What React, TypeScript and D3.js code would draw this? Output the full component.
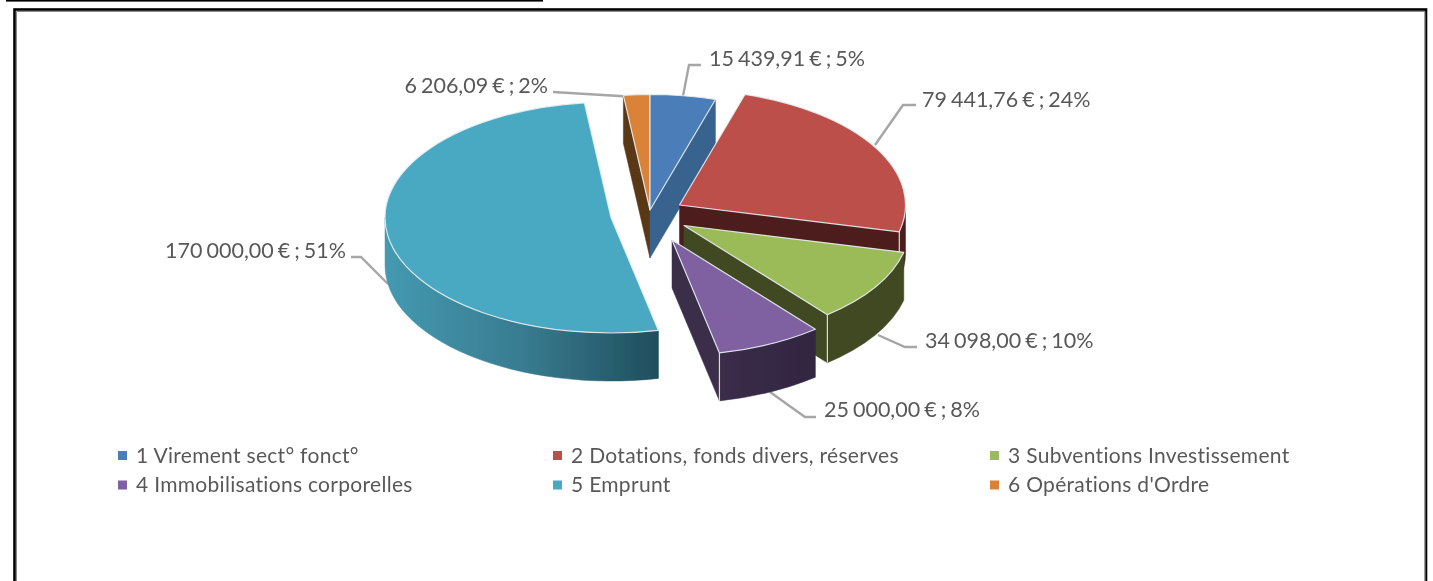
import React from "react";
import * as d3 from "d3";

// ---- data ----
const categories = [
  "1 Virement sect° fonct°",
  "2 Dotations, fonds divers, réserves",
  "3 Subventions Investissement",
  "4 Immobilisations corporelles",
  "5 Emprunt",
  "6 Opérations d'Ordre",
];
const amounts = [15439.91, 79441.76, 34098.0, 25000.0, 170000.0, 6206.09];

// ---- styling & layout ----
const topColors = ["#4c7db8", "#bd4f4c", "#9bba58", "#7f60a0", "#48a9c3", "#d98239"];
const sideColors = ["#39638f", "#4d1f1e", "#3f4a20", "url(#purpleWall)", "url(#tealWall)", "#5a3815"];
const apexes: [number, number][] = [
  [650, 210],
  [679.5, 205],
  [684, 225.5],
  [672, 240],
  [611, 217.5],
  [650, 210],
];
const drawOrder = [5, 0, 1, 2, 3, 4];
const leaders: [number, number][][] = [
  [[683, 96], [689, 65], [701, 65]],
  [[875, 145], [903, 105], [916, 105]],
  [[878, 335], [905, 347], [917, 347]],
  [[770, 392], [805, 417], [816, 417]],
  [[388, 284], [361, 257], [351, 257]],
  [[636, 97], [553, 92]],
];
const labelAnchors: [number, number, string][] = [
  [709, 66, "start"],
  [922, 107, "start"],
  [925, 348, "start"],
  [824, 417, "start"],
  [346, 258, "end"],
  [548, 93, "end"],
];
const RX = 226;
const RY = 115.5;
const DEPTH = 48;
const FONT = "Lato, 'Open Sans', sans-serif";
const TEXT = "#595959";

const W = 1433;
const H = 581;

const locale = d3.formatLocale({
  decimal: ",",
  thousands: "\u00a0",
  grouping: [3],
  currency: ["", "\u00a0€"],
});
const money = locale.format("$,.2f");
const pct = d3.format(".0%");

const total = d3.sum(amounts);
const arcs = d3
  .pie<number>()
  .sort(null)
  .startAngle(0)
  .endAngle(2 * Math.PI)(amounts);

const pt = (c: [number, number], a: number, dy = 0): [number, number] => [
  c[0] + RX * Math.sin(a),
  c[1] - RY * Math.cos(a) + dy,
];

function topPath(c: [number, number], a0: number, a1: number) {
  const p0 = pt(c, a0);
  const p1 = pt(c, a1);
  const large = a1 - a0 > Math.PI ? 1 : 0;
  return `M${c[0]},${c[1]}L${p0[0]},${p0[1]}A${RX},${RY} 0 ${large} 1 ${p1[0]},${p1[1]}Z`;
}

function outerWall(c: [number, number], a0: number, a1: number) {
  const s = Math.max(a0, Math.PI / 2);
  const e = Math.min(a1, (3 * Math.PI) / 2);
  if (e <= s) return null;
  const p0 = pt(c, s);
  const p1 = pt(c, e);
  const q1 = pt(c, e, DEPTH);
  const q0 = pt(c, s, DEPTH);
  return `M${p0[0]},${p0[1]}A${RX},${RY} 0 0 1 ${p1[0]},${p1[1]}L${q1[0]},${q1[1]}A${RX},${RY} 0 0 0 ${q0[0]},${q0[1]}Z`;
}

function cutWall(c: [number, number], a: number) {
  const p = pt(c, a);
  return `M${c[0]},${c[1]}L${p[0]},${p[1]}L${p[0]},${p[1] + DEPTH}L${c[0]},${c[1] + DEPTH}Z`;
}

// radial cuts of a slice that face the viewer
function visibleCuts(i: number): number[] {
  const a = arcs[i];
  if (i === 5) return [a.startAngle];
  if (i === 4) return [];
  return [a.endAngle];
}

const line = d3.line();

export default function App() {
  const edge = { stroke: "#e8eef2", strokeWidth: 1.2, strokeOpacity: 0.9, strokeLinejoin: "round" as const };
  return (
    <svg
      width={W}
      height={H}
      viewBox={`0 0 ${W} ${H}`}
      style={{ position: "absolute", left: 0, top: 0, background: "#fff", display: "block" }}
    >
      <defs>
        <linearGradient id="tealWall" gradientUnits="userSpaceOnUse" x1={386} x2={659} y1={0} y2={0}>
          <stop offset="0" stopColor="#4499b0" />
          <stop offset="0.5" stopColor="#387c90" />
          <stop offset="1" stopColor="#1f4e5c" />
        </linearGradient>
        <linearGradient id="purpleWall" gradientUnits="userSpaceOnUse" x1={719} x2={816} y1={0} y2={0}>
          <stop offset="0" stopColor="#3b2d4a" />
          <stop offset="1" stopColor="#312640" />
        </linearGradient>
        <filter id="soft" x="-5%" y="-5%" width="110%" height="110%">
          <feGaussianBlur stdDeviation="0.45" />
        </filter>
      </defs>

      {/* page rule and chart frame */}
      <rect x={6} y={0} width={537} height={1.6} fill="#000" />
      <rect x={14.5} y={9.5} width={1411.5} height={H} fill="#fff" stroke="#000" strokeWidth={2.6} />
      <path d={`M16.5,${H}V11.5H1425V${H}`} fill="none" stroke="#8a8a8a" strokeWidth={1} />

      <g filter="url(#soft)">
        {/* leader lines */}
        <g fill="none" stroke="#a6a6a6" strokeWidth={2.4}>
          {leaders.map((l, i) => (
            <path key={i} d={line(l) ?? ""} />
          ))}
        </g>

        {/* slices */}
        {drawOrder.map((i) => {
          const a = arcs[i];
          const c = apexes[i];
          const wall = outerWall(c, a.startAngle, a.endAngle);
          const hasEdge = a.endAngle > Math.PI / 2 && a.endAngle < Math.PI;
          return (
            <g key={i}>
              {visibleCuts(i).map((ang, k) => (
                <path key={k} d={cutWall(c, ang)} fill={sideColors[i]} stroke={sideColors[i]} strokeWidth={0.5} />
              ))}
              {wall && <path d={wall} fill={sideColors[i]} stroke={sideColors[i]} strokeWidth={0.5} />}
              {hasEdge && (
                <path
                  d={`M${pt(c, a.endAngle)[0]},${pt(c, a.endAngle)[1]}V${pt(c, a.endAngle)[1] + DEPTH}`}
                  {...edge}
                  fill="none"
                />
              )}
              <path d={topPath(c, a.startAngle, a.endAngle)} fill={topColors[i]} {...edge} />
            </g>
          );
        })}

        {/* data labels */}
        <g fontFamily={FONT} fontSize={21.5} fill={TEXT} style={{ wordSpacing: "-1.5px" }}>
          {arcs.map((a, i) => (
            <text key={i} x={labelAnchors[i][0]} y={labelAnchors[i][1]} textAnchor={labelAnchors[i][2] as "start" | "end"}>
              {`${money(a.data)} ; ${pct(a.data / total)}`}
            </text>
          ))}
        </g>

        {/* legend */}
        <g fontFamily={FONT} fontSize={21} fill={TEXT} style={{ letterSpacing: "0.3px" }}>
          {categories.map((name, i) => {
            const col = i % 3;
            const row = Math.floor(i / 3);
            const x = [118, 553, 990][col];
            const y = 455.5 + row * 29.5;
            return (
              <g key={name}>
                <rect x={x} y={y - 4.5} width={9} height={9} fill={topColors[i]} />
                <text x={x + 18} y={y + 7}>
                  {name}
                </text>
              </g>
            );
          })}
        </g>
      </g>
    </svg>
  );
}
